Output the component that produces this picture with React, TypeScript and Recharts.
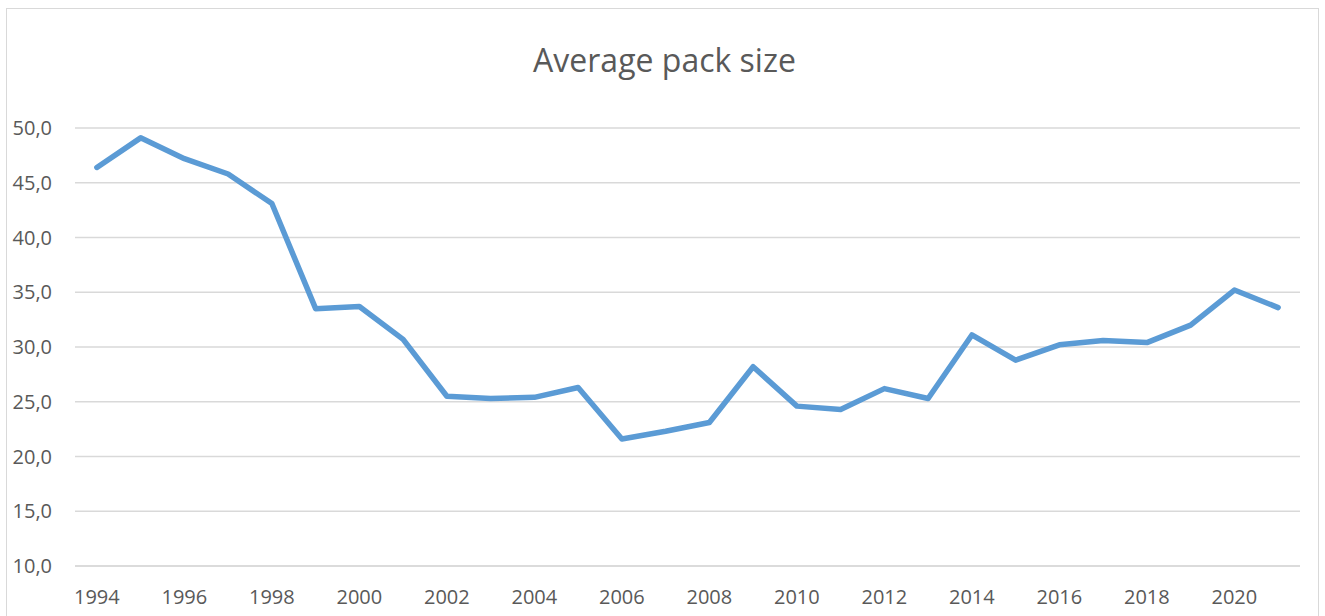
import { CartesianGrid, Line, LineChart, XAxis, YAxis } from "recharts";

const years = [
  "1994", "1995", "1996", "1997", "1998", "1999", "2000", "2001", "2002", "2003",
  "2004", "2005", "2006", "2007", "2008", "2009", "2010", "2011", "2012", "2013",
  "2014", "2015", "2016", "2017", "2018", "2019", "2020", "2021",
];

const packSize = [
  46.4, 49.1, 47.2, 45.8, 43.1, 33.5, 33.7, 30.7, 25.5, 25.3,
  25.4, 26.3, 21.6, 22.3, 23.1, 28.2, 24.6, 24.3, 26.2, 25.3,
  31.1, 28.8, 30.2, 30.6, 30.4, 32.0, 35.2, 33.6,
];

const yTicks = [10, 15, 20, 25, 30, 35, 40, 45, 50];

const data = years.map((year, i) => ({ year, value: packSize[i] }));

const font = "'Open Sans', 'DejaVu Sans', sans-serif";
const textColor = "#595959";
const gridColor = "#d9d9d9";

function comma(v: number) {
  return v.toFixed(1).replace(".", ",");
}

export default function App() {
  return (
    <div
      style={{
        position: "absolute",
        left: 0,
        top: 0,
        width: 1325,
        height: 616,
        background: "#fff",
        overflow: "hidden",
        fontFamily: font,
      }}
    >
      {/* chart frame */}
      <div
        style={{
          position: "absolute",
          left: 6,
          top: 8,
          width: 1313,
          height: 640,
          border: "1px solid #d9d9d9",
          boxSizing: "border-box",
        }}
      />
      <div
        style={{
          position: "absolute",
          top: 44,
          left: 2,
          width: 1325,
          textAlign: "center",
          fontSize: 32,
          lineHeight: "32px",
          color: textColor,
        }}
      >
        Average pack size
      </div>
      <div style={{ position: "absolute", left: 0, top: 0 }}>
        <LineChart
          width={1325}
          height={616}
          data={data}
          margin={{ top: 128, right: 25, bottom: 0, left: 0 }}
        >
          <CartesianGrid vertical={false} stroke={gridColor} strokeWidth={1.5} />
          <XAxis
            dataKey="year"
            interval={1}
            height={50}
            padding={{ left: 21.875, right: 21.875 }}
            axisLine={{ stroke: gridColor, strokeWidth: 1.5 }}
            tickLine={false}
            tickMargin={18}
            tick={{ fill: textColor, fontSize: 20, fontFamily: font }}
          />
          <YAxis
            width={75}
            domain={[10, 50]}
            ticks={yTicks}
            tickFormatter={comma}
            axisLine={false}
            tickLine={false}
            tickMargin={17}
            tick={{ fill: textColor, fontSize: 20, fontFamily: font }}
          />
          <Line
            dataKey="value"
            stroke="#5b9bd5"
            strokeWidth={5.5}
            strokeLinecap="round"
            strokeLinejoin="round"
            dot={false}
            isAnimationActive={false}
          />
        </LineChart>
      </div>
    </div>
  );
}
